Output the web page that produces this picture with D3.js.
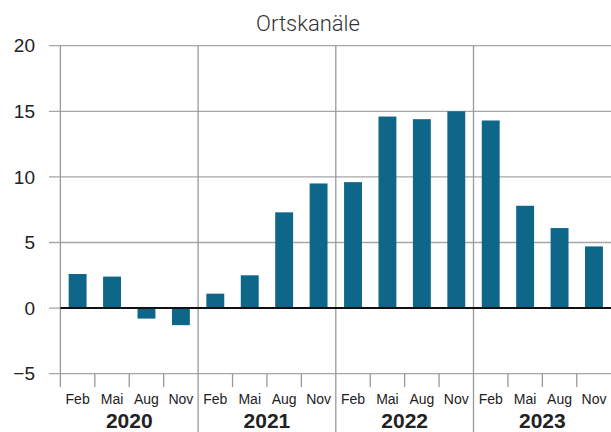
<!DOCTYPE html>
<html><head><meta charset="utf-8">
<script src="https://cdn.jsdelivr.net/npm/d3@7"></script>
<style>body{margin:0;background:#fff}svg{display:block}</style>
</head><body>
<svg id="c" width="611" height="432"></svg>
<script>
const years = ["2020","2021","2022","2023"];
const months = ["Feb","Mai","Aug","Nov"];
const values = [2.6, 2.4, -0.8, -1.3, 1.1, 2.5, 7.3, 9.5, 9.6, 14.6, 14.4, 15.0, 14.3, 7.8, 6.1, 4.7];
const yTicks = [-5, 0, 5, 10, 15, 20];
const title = "Ortskanäle";

(function () {
const svg = d3.select("#c");
const pLeft = 60.4, pRight = 611.2, pTop = 45.7, pBottom = 373.7;
const cats = d3.range(values.length);
const x = d3.scaleBand().domain(cats).range([pLeft, pRight]).paddingInner(0.48).paddingOuter(0.24);
const xb = d3.scaleBand().domain(cats).range([pLeft, pRight]);
const y = d3.scaleLinear().domain([-5, 20]).range([pBottom, pTop]);
const font = "'Liberation Sans', Arial, sans-serif";

// gridlines
svg.append("g").selectAll("line").data(yTicks).join("line")
  .attr("x1", 49).attr("x2", 611).attr("y1", d => y(d)).attr("y2", d => y(d))
  .attr("stroke", "#a6a6a6").attr("stroke-width", 1.3);
// y labels
svg.append("g").selectAll("text").data(yTicks).join("text")
  .attr("x", 35).attr("y", d => y(d)).attr("dy", "0.35em").attr("text-anchor", "end")
  .attr("font-family", font).attr("font-size", 19).attr("fill", "#222")
  .text(d => d < 0 ? "\u2212" + Math.abs(d) : d);

// year dividers
svg.append("g").selectAll("line").data(years.slice(1)).join("line")
  .attr("x1", (d, i) => xb((i + 1) * 4)).attr("x2", (d, i) => xb((i + 1) * 4))
  .attr("y1", pTop).attr("y2", 432).attr("stroke", "#999").attr("stroke-width", 1.3);
// left axis line
svg.append("line").attr("x1", pLeft).attr("x2", pLeft).attr("y1", pTop).attr("y2", 387)
  .attr("stroke", "#999").attr("stroke-width", 1.3);
// month ticks
svg.append("g").selectAll("line").data(cats.filter(i => i % 4 !== 0)).join("line")
  .attr("x1", d => xb(d)).attr("x2", d => xb(d)).attr("y1", pBottom).attr("y2", 387)
  .attr("stroke", "#999").attr("stroke-width", 1.3);

// bars
svg.append("g").selectAll("rect").data(values).join("rect")
  .attr("x", (d, i) => x(i)).attr("width", x.bandwidth())
  .attr("y", d => y(Math.max(0, d))).attr("height", d => Math.abs(y(d) - y(0)))
  .attr("fill", "#0e6689");

// zero line
svg.append("line").attr("x1", pLeft).attr("x2", 611).attr("y1", y(0)).attr("y2", y(0))
  .attr("stroke", "#111").attr("stroke-width", 2);

// month labels
svg.append("g").selectAll("text").data(cats).join("text")
  .attr("x", d => xb(d) + xb.bandwidth() / 2).attr("y", 403.5).attr("text-anchor", "middle")
  .attr("font-family", font).attr("font-size", 14).attr("fill", "#222")
  .text(d => months[d % 4]);
// year labels
svg.append("g").selectAll("text").data(years).join("text")
  .attr("x", (d, i) => xb(i * 4) + xb.bandwidth() * 2).attr("y", 427.5).attr("text-anchor", "middle")
  .attr("font-family", font).attr("font-size", 21).attr("font-weight", "bold").attr("fill", "#222")
  .text(d => d);

// title
svg.append("text").attr("x", 308).attr("y", 31).attr("text-anchor", "middle")
  .attr("font-family", "Roboto, 'Liberation Sans', sans-serif").attr("font-weight", 300)
  .attr("font-size", 22).attr("fill", "#333").text(title);
})();
</script>
</body></html>
